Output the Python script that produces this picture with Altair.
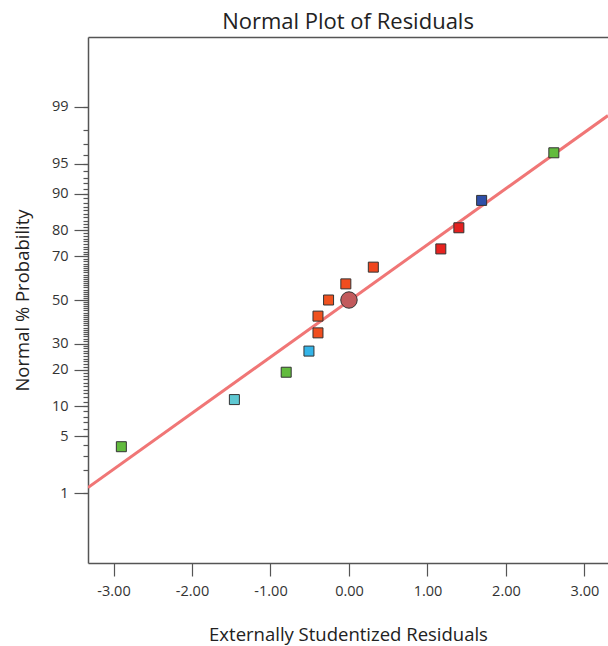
import altair as alt
import pandas as pd
from statistics import NormalDist

# ---- data ----
residuals = [-2.90, -1.46, -0.80, -0.51, -0.395, -0.395, -0.26, -0.04, 0.31, 1.17, 1.40, 1.69, 2.61]
pct = [3.85, 11.5, 19.2, 26.9, 34.6, 42.3, 50.0, 57.7, 65.4, 73.1, 80.8, 88.5, 96.2]
colors = ["#62bb3e", "#5ec8d2", "#62bb3e", "#33b4e8", "#f04e1f", "#f0521f", "#f0521f",
          "#f04c1f", "#f0461f", "#e8221f", "#e4201f", "#2f4fa8", "#62bb3e"]

center_x = [0.0]
center_pct = [50.0]

line_x = [-3.325, 3.30]
line_pct = [1.19, 98.69]

x_ticks = [-3, -2, -1, 0, 1, 2, 3]
major_pct = [1, 5, 10, 20, 30, 50, 70, 80, 90, 95, 99]
minor_pct = list(range(1, 100))

FONT = "Open Sans"

pts = pd.DataFrame({"res": residuals, "pct": pct, "color": colors})
ctr = pd.DataFrame({"res": center_x, "pct": center_pct})
ln = pd.DataFrame({"res": line_x, "pct": line_pct})

minor_z = [NormalDist().inv_cdf(p / 100.0) for p in minor_pct]
major_z = [NormalDist().inv_cdf(p / 100.0) for p in major_pct]
p_expr = "round(cumulativeNormal(datum.value)*100)"

x_scale = alt.Scale(domain=[-3.325, 3.30], nice=False, zero=False)
y_scale = alt.Scale(domain=[-3.17, 3.17], nice=False, zero=False)

y_axis_major = alt.Axis(
    orient="left",
    values=major_z,
    labelExpr=f"format({p_expr}, 'd')",
    tickSize=14,
    labelOverlap=False,
    labelPadding=6,
    labelFontSize=14.5,
    labelFont=FONT,
    labelColor="#333",
    grid=False,
    domain=False,
    title="Normal % Probability",
    titleFont=FONT,
    titleFontSize=18.5,
    titleFontWeight="normal",
    titleColor="#222",
    titleX=-66,
    titleY=263,
    titleAngle=270,
    titleAlign="center",
    titleBaseline="middle",
)

y_axis_minor = alt.Axis(
    orient="left",
    values=minor_z,
    tickSize=5,
    labels=False,
    grid=False,
    domain=True,
    title=None,
)

x_axis_bottom = alt.Axis(
    values=x_ticks,
    labelExpr="(datum.value < 0 ? '-' : '') + format(abs(datum.value), '.2f')",
    tickSize=13,
    labelPadding=8,
    labelFontSize=14.5,
    labelFont=FONT,
    labelColor="#333",
    grid=False,
    title="Externally Studentized Residuals",
    titleFont=FONT,
    titleFontSize=18.5,
    titleFontWeight="normal",
    titleColor="#222",
    titleX=260,
    titleY=71,
    titleAlign="center",
    titleBaseline="middle",
)

x_axis_top = alt.Axis(orient="top", labels=False, ticks=False, grid=False, title=None, domain=True)

line = alt.Chart(ln).mark_line(color="#f07676", strokeWidth=3, clip=True).transform_calculate(
    z="quantileNormal(datum.pct/100)"
).encode(
    x=alt.X("res:Q", scale=x_scale, axis=x_axis_top),
    y=alt.Y("z:Q", scale=y_scale, axis=y_axis_minor),
)

squares = alt.Chart(pts).mark_point(shape="square", filled=True, size=100, stroke="#333",
                                     strokeWidth=1, opacity=1).transform_calculate(
    z="quantileNormal(datum.pct/100)"
).encode(
    x=alt.X("res:Q", scale=x_scale, axis=x_axis_bottom),
    y=alt.Y("z:Q", scale=y_scale, axis=None),
    fill=alt.Fill("color:N", scale=None),
)

circle = alt.Chart(ctr).mark_point(shape="circle", filled=True, size=270, fill="#c25a5c",
                                    stroke="#333", strokeWidth=1, opacity=1).transform_calculate(
    z="quantileNormal(datum.pct/100)"
).encode(
    x=alt.X("res:Q", scale=x_scale, axis=None),
    y=alt.Y("z:Q", scale=y_scale, axis=y_axis_major),
)

chart = alt.layer(line, squares, circle).resolve_axis(x="independent", y="independent").properties(
    width=520,
    height=526,
    autosize=alt.AutoSizeParams(type="none"),
    padding={"left": 88, "top": 37, "right": 0, "bottom": 83},
    title=alt.TitleParams("Normal Plot of Residuals", fontSize=22, font=FONT,
                          fontWeight="normal", color="#222", offset=3, anchor="middle"),
).configure_view(stroke=None).configure_axis(
    domainColor="#555", domainWidth=1.5, tickColor="#555", tickWidth=1.2
)

chart.save("out.html", embed_options={"renderer": "svg", "actions": False})
